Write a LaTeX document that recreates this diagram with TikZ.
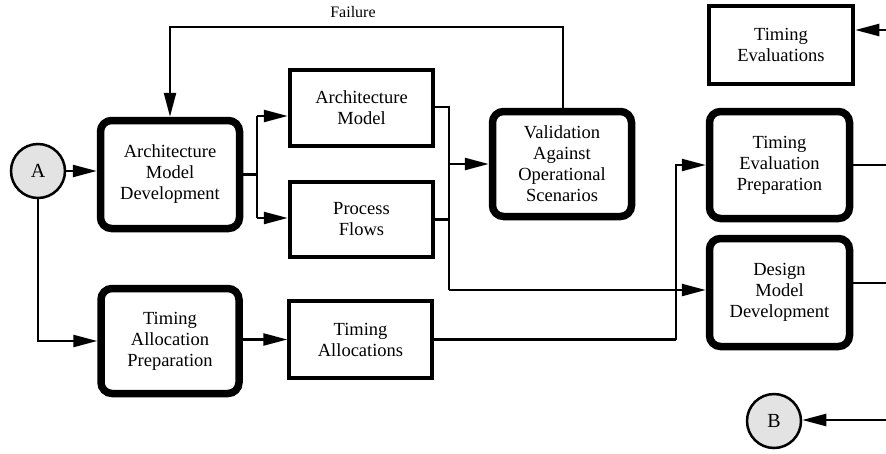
\documentclass[tikz,border=0pt]{standalone}
\usepackage{fontspec}
\setmainfont{Liberation Serif}
\usetikzlibrary{arrows.meta}
\begin{document}
\begin{tikzpicture}[x=1pt,y=-1pt,
  txt/.style={font=\rmfamily\fontsize{18.5}{21}\selectfont, align=center, inner sep=0pt},
  activity/.style={txt, draw, line width=7.5pt, rounded corners=11pt},
  product/.style={txt, draw, line width=4pt},
  connector/.style={circle, draw, line width=2.5pt, fill=gray!22, minimum size=54pt,
    inner sep=0pt, font=\rmfamily\fontsize{20}{22}\selectfont},
  flow/.style={line width=2.4pt},
  arr/.style={flow, -{Triangle[length=24pt,width=12pt]}}
]
\useasboundingbox (0,0) rectangle (886,453);

% activities (heavy rounded boxes)
\node[activity, minimum width=139pt, minimum height=108pt] (amd) at (170,174.5)
  {Architecture\\Model\\Development};
\node[activity, minimum width=138pt, minimum height=105pt] (tap) at (170,341)
  {Timing\\Allocation\\Preparation};
\node[activity, minimum width=139pt, minimum height=105pt] (val) at (562,164)
  {Validation\\Against\\Operational\\Scenarios};
\node[activity, minimum width=140pt, minimum height=107pt] (tep) at (779.5,165)
  {Timing\\Evaluation\\Preparation};
\node[activity, minimum width=140pt, minimum height=108pt] (dmd) at (779.5,292.5)
  {Design\\Model\\Development};

% products (plain boxes)
\node[product, minimum width=143.5pt, minimum height=76.5pt] (am) at (361.5,108)
  {Architecture\\Model};
\node[product, minimum width=143.5pt, minimum height=75.5pt] (pf) at (361.5,219.5)
  {Process\\Flows};
\node[product, minimum width=142.5pt, minimum height=77.5pt] (ta) at (360.5,339.5)
  {Timing\\Allocations};
\node[product, minimum width=144.5pt, minimum height=78.5pt] (te) at (781,45)
  {Timing\\Evaluations};

% off-page connectors
\node[connector] (A) at (38,171) {A};
\node[connector] (B) at (774,421) {B};

% junction points and page-edge ends
\coordinate (split) at (257,174.5);
\coordinate (splitTop) at (257,116);
\coordinate (splitBot) at (257,218);
\coordinate (mergeTop) at (449,107);
\coordinate (mergeMid) at (449,164);
\coordinate (mergeBot) at (449,290);
\coordinate (failL) at (170,27);
\coordinate (failR) at (563,27);
\coordinate (taJoin) at (676,339.5);
\coordinate (tepIn) at (676,165);
\coordinate (edgeTE) at (886,30);
\coordinate (edgeTEP) at (886,165);
\coordinate (edgeDMD) at (886,283);
\coordinate (edgeB) at (886,420);

% A feeds both development threads
\draw[arr] (A.east) -- (A.east -| amd.west);
\draw[arr] (A.south) |- (tap.west);

% architecture model development outputs
\draw[flow] (amd.east) -- (split);
\draw[flow] (splitTop) -- (splitBot);
\draw[arr] (splitTop) -- (splitTop -| am.west);
\draw[arr] (splitBot) -- (splitBot -| pf.west);

% model and flows go to validation and design
\draw[flow] (mergeTop -| am.east) -- (mergeTop) -- (mergeBot);
\draw[flow] (pf.east) -- (pf.east -| mergeTop);
\draw[arr] (mergeMid) -- (mergeMid -| val.west);
\draw[arr] (mergeBot) -- (mergeBot -| dmd.west);

% failure loop back to development
\draw[arr] (val.north -| failR) -- (failR) -- (failL) -- (amd.north);
\node[txt, font=\rmfamily\fontsize{16}{18}\selectfont] (fail) at (353,12) {Failure};

% timing thread
\draw[arr] (tap.east |- ta.west) -- (ta.west);
\draw[flow] (ta.east) -- (taJoin);
\draw[arr] (taJoin) -- (tepIn) -- (tep.west);

% links leaving and entering at the page edge
\draw[flow] (tep.east) -- (edgeTEP);
\draw[flow] (dmd.east |- edgeDMD) -- (edgeDMD);
\draw[arr] (edgeTE) -- (edgeTE -| te.east);
\draw[arr] (edgeB) -- (edgeB -| B.east);
\end{tikzpicture}
\end{document}
